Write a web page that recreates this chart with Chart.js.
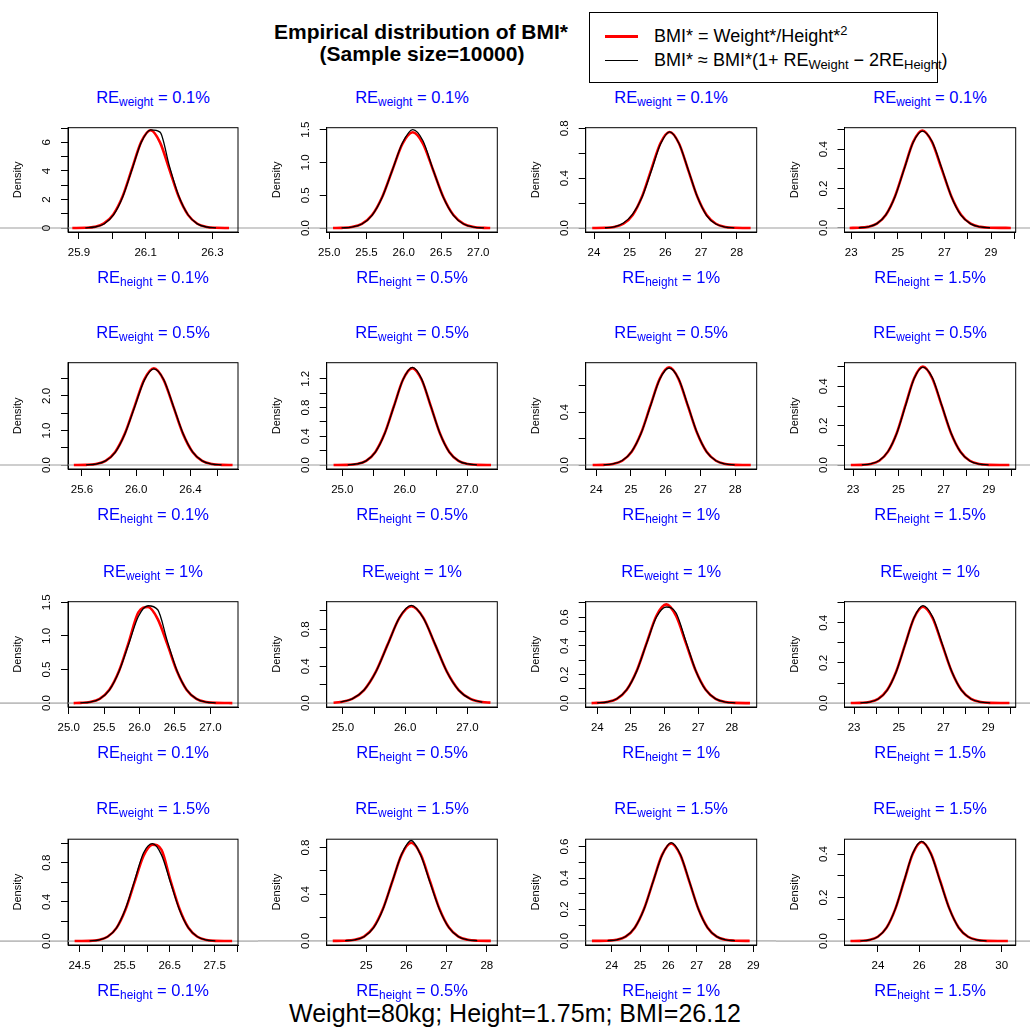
<!DOCTYPE html>
<html>
<head>
<meta charset="utf-8">
<script src="https://cdn.jsdelivr.net/npm/chart.js@4.4.1/dist/chart.umd.min.js"></script>
<style>
body { margin: 0; width: 1030px; height: 1028px; position: relative; background: #fff; overflow: hidden;
       font-family: "Liberation Sans", Arial, sans-serif; }
canvas { position: absolute; }
.lab { position: absolute; color: #0000ff; font-size: 16.5px; white-space: nowrap; transform: translate(-50%, -50%); }
.lab sub, .leg sub { font-size: 0.72em; vertical-align: -0.28em; line-height: 0; }
.leg sup { font-size: 0.72em; vertical-align: 0.5em; line-height: 0; }
.title { position: absolute; font-weight: bold; font-size: 21px; white-space: nowrap; transform: translate(-50%, -50%); }
.legbox { position: absolute; left: 589px; top: 12px; width: 347px; height: 69px; border: 1px solid #000; }
.leg { position: absolute; left: 654px; font-size: 18px; white-space: nowrap; transform: translateY(-50%); }
.foot { position: absolute; left: 515px; top: 1013px; font-size: 25px; white-space: nowrap; transform: translate(-50%, -50%); }
</style>
</head>
<body>
<div class="title" style="left:421px; top:32px">Empirical distribution of BMI*</div>
<div class="title" style="left:422px; top:54px">(Sample size=10000)</div>
<div class="legbox"></div>
<div style="position:absolute; left:605px; top:34.5px; width:33px; height:3px; background:#ff0000"></div>
<div style="position:absolute; left:605px; top:59.5px; width:33px; height:1px; background:#000"></div>
<div class="leg" style="top:36px">BMI* = Weight*/Height*<sup>2</sup></div>
<div class="leg" style="top:60px">BMI* &asymp; BMI*(1+ RE<sub>Weight</sub> &minus; 2RE<sub>Height</sub>)</div>
<div class="foot">Weight=80kg; Height=1.75m; BMI=26.12</div>

<script>
const weightRE = ['0.1%', '0.5%', '1%', '1.5%']
const heightRE = ['0.1%', '0.5%', '1%', '1.5%']

// panel rc: row r = RE weight, column c = RE height
// red = exact BMI*, blk = linear approximation
const x11 = [25.880, 25.919, 25.947, 25.975, 26.003, 26.031, 26.059, 26.087, 26.115, 26.143, 26.171, 26.199, 26.227, 26.255, 26.283, 26.311, 26.350]
const red11 = [0.00, 0.015, 0.08, 0.32, 0.95, 2.22, 4.15, 6.05, 6.85, 6.00, 4.12, 2.20, 0.92, 0.30, 0.075, 0.015, 0.00]
const blk11 = [null, 0.01, 0.07, 0.28, 0.90, 2.18, 4.10, 6.02, 6.88, 6.72, 4.35, 2.26, 0.93, 0.29, 0.07, 0.01, null]

const x12 = [25.050, 25.164, 25.301, 25.437, 25.574, 25.710, 25.847, 25.983, 26.120, 26.257, 26.393, 26.530, 26.666, 26.803, 26.939, 27.076, 27.160]
const red12 = [0.0005, 0.003, 0.016, 0.064, 0.198, 0.474, 0.886, 1.288, 1.46, 1.288, 0.886, 0.474, 0.198, 0.064, 0.016, 0.003, 0.0005]
const blk12 = [null, 0.002, 0.015, 0.062, 0.195, 0.47, 0.885, 1.30, 1.50, 1.33, 0.89, 0.47, 0.195, 0.062, 0.015, 0.002, null]

const x13 = [23.950, 24.307, 24.566, 24.825, 25.084, 25.343, 25.602, 25.861, 26.120, 26.379, 26.638, 26.897, 27.156, 27.415, 27.674, 27.933, 28.390]
const red13 = [0.0002, 0.0017, 0.0085, 0.034, 0.104, 0.250, 0.467, 0.680, 0.770, 0.680, 0.467, 0.250, 0.104, 0.034, 0.0085, 0.0017, 0.0002]
const blk13 = [null, 0.002, 0.010, 0.040, 0.112, 0.245, 0.455, 0.672, 0.772, 0.680, 0.470, 0.250, 0.100, 0.032, 0.008, 0.0015, null]

const x14 = [22.930, 23.320, 23.710, 24.100, 24.490, 24.880, 25.270, 25.660, 26.050, 26.465, 26.880, 27.295, 27.710, 28.125, 28.540, 28.955, 29.850]
const red14 = [0.0001, 0.0011, 0.0055, 0.0217, 0.067, 0.161, 0.300, 0.437, 0.495, 0.437, 0.300, 0.161, 0.067, 0.0217, 0.0055, 0.0011, 0.0001]
const blk14 = [null, 0.0011, 0.0058, 0.022, 0.068, 0.160, 0.298, 0.435, 0.492, 0.440, 0.305, 0.160, 0.065, 0.021, 0.005, 0.001, null]

const x21 = [25.540, 25.631, 25.703, 25.774, 25.845, 25.916, 25.988, 26.059, 26.130, 26.201, 26.273, 26.344, 26.415, 26.486, 26.558, 26.629, 26.710]
const red21 = [0.0006, 0.006, 0.031, 0.123, 0.379, 0.909, 1.698, 2.471, 2.80, 2.471, 1.698, 0.909, 0.379, 0.123, 0.031, 0.006, 0.0006]
const blk21 = [null, 0.006, 0.030, 0.120, 0.370, 0.900, 1.680, 2.450, 2.780, 2.480, 1.710, 0.920, 0.380, 0.120, 0.030, 0.006, null]

const x22 = [24.860, 25.086, 25.233, 25.381, 25.529, 25.677, 25.825, 25.972, 26.120, 26.268, 26.416, 26.563, 26.711, 26.859, 27.007, 27.154, 27.380]
const red22 = [0.0003, 0.003, 0.015, 0.059, 0.183, 0.438, 0.819, 1.191, 1.350, 1.191, 0.819, 0.438, 0.183, 0.059, 0.015, 0.003, 0.0003]
const blk22 = [null, 0.003, 0.015, 0.058, 0.180, 0.435, 0.815, 1.190, 1.360, 1.200, 0.820, 0.440, 0.180, 0.058, 0.015, 0.003, null]

const x23 = [23.900, 24.213, 24.483, 24.752, 25.022, 25.291, 25.561, 25.830, 26.100, 26.370, 26.639, 26.909, 27.178, 27.448, 27.717, 27.987, 28.450]
const red23 = [0.0001, 0.0016, 0.0082, 0.0325, 0.100, 0.240, 0.449, 0.653, 0.740, 0.653, 0.449, 0.240, 0.100, 0.0325, 0.0082, 0.0016, 0.0001]
const blk23 = [null, 0.0018, 0.009, 0.034, 0.102, 0.238, 0.445, 0.650, 0.735, 0.655, 0.452, 0.242, 0.100, 0.032, 0.008, 0.0015, null]

const x24 = [22.900, 23.385, 23.770, 24.155, 24.540, 24.925, 25.310, 25.695, 26.080, 26.495, 26.910, 27.325, 27.740, 28.155, 28.570, 28.985, 29.900]
const red24 = [0.0001, 0.0011, 0.0056, 0.022, 0.068, 0.162, 0.303, 0.441, 0.500, 0.441, 0.303, 0.162, 0.068, 0.022, 0.0056, 0.0011, 0.0001]
const blk24 = [null, 0.0012, 0.006, 0.023, 0.069, 0.160, 0.300, 0.440, 0.498, 0.445, 0.305, 0.163, 0.067, 0.021, 0.005, 0.001, null]

const x31 = [25.070, 25.164, 25.301, 25.437, 25.574, 25.710, 25.847, 25.983, 26.120, 26.257, 26.393, 26.530, 26.666, 26.803, 26.939, 27.076, 27.310]
const red31 = [0.0003, 0.003, 0.016, 0.064, 0.198, 0.478, 0.905, 1.350, 1.430, 1.250, 0.875, 0.470, 0.196, 0.063, 0.016, 0.003, 0.0003]
const blk31 = [null, 0.003, 0.015, 0.062, 0.195, 0.470, 0.880, 1.290, 1.450, 1.390, 0.920, 0.478, 0.197, 0.063, 0.015, 0.003, null]

const x32 = [24.850, 24.960, 25.150, 25.340, 25.530, 25.720, 25.910, 26.100, 26.290, 26.480, 26.670, 26.860, 27.050, 27.240, 27.370]
const red32 = [0.004, 0.0117, 0.046, 0.142, 0.341, 0.637, 0.927, 1.050, 0.927, 0.637, 0.341, 0.142, 0.046, 0.0117, 0.005]
const blk32 = [null, 0.012, 0.046, 0.142, 0.340, 0.635, 0.930, 1.060, 0.925, 0.640, 0.340, 0.140, 0.045, 0.011, null]

const x33 = [23.830, 23.995, 24.289, 24.582, 24.876, 25.169, 25.463, 25.756, 26.050, 26.344, 26.637, 26.931, 27.224, 27.518, 27.811, 28.105, 28.540]
const red33 = [0.0003, 0.0015, 0.0077, 0.030, 0.093, 0.224, 0.418, 0.609, 0.690, 0.609, 0.418, 0.224, 0.093, 0.030, 0.0077, 0.0015, 0.0002]
const blk33 = [null, 0.0017, 0.008, 0.031, 0.094, 0.222, 0.415, 0.600, 0.672, 0.630, 0.430, 0.225, 0.092, 0.030, 0.0075, 0.0015, null]

const x34 = [22.850, 23.280, 23.680, 24.080, 24.480, 24.880, 25.280, 25.680, 26.080, 26.510, 26.940, 27.370, 27.800, 28.230, 28.660, 29.090, 29.950]
const red34 = [0.0001, 0.0011, 0.0053, 0.021, 0.065, 0.156, 0.291, 0.424, 0.480, 0.424, 0.291, 0.156, 0.065, 0.021, 0.0053, 0.0011, 0.0001]
const blk34 = [null, 0.001, 0.005, 0.020, 0.064, 0.155, 0.290, 0.425, 0.485, 0.430, 0.295, 0.157, 0.064, 0.020, 0.005, 0.001, null]

const x41 = [24.390, 24.723, 24.923, 25.122, 25.322, 25.521, 25.721, 25.920, 26.120, 26.320, 26.519, 26.719, 26.918, 27.118, 27.317, 27.517, 27.890]
const red41 = [0.0002, 0.002, 0.011, 0.044, 0.135, 0.322, 0.600, 0.870, 0.985, 0.930, 0.620, 0.330, 0.136, 0.044, 0.011, 0.002, 0.0002]
const blk41 = [null, 0.002, 0.011, 0.044, 0.135, 0.330, 0.615, 0.900, 0.995, 0.880, 0.600, 0.320, 0.134, 0.044, 0.011, 0.002, null]

const x42 = [24.170, 24.478, 24.713, 24.947, 25.182, 25.416, 25.651, 25.885, 26.120, 26.355, 26.589, 26.824, 27.058, 27.293, 27.527, 27.762, 28.100]
const red42 = [0.0002, 0.0018, 0.0093, 0.037, 0.114, 0.273, 0.509, 0.741, 0.840, 0.741, 0.509, 0.273, 0.114, 0.037, 0.0093, 0.0018, 0.0002]
const blk42 = [null, 0.0018, 0.009, 0.036, 0.112, 0.270, 0.510, 0.745, 0.860, 0.735, 0.500, 0.270, 0.114, 0.037, 0.009, 0.0018, null]

const x43 = [23.300, 23.850, 24.171, 24.492, 24.814, 25.135, 25.457, 25.778, 26.100, 26.422, 26.743, 27.065, 27.386, 27.708, 28.029, 28.350, 28.870]
const red43 = [0.0001, 0.0014, 0.0069, 0.027, 0.084, 0.201, 0.376, 0.547, 0.620, 0.547, 0.376, 0.201, 0.084, 0.027, 0.0069, 0.0014, 0.0001]
const blk43 = [null, 0.0015, 0.007, 0.028, 0.085, 0.200, 0.375, 0.545, 0.625, 0.550, 0.378, 0.200, 0.083, 0.027, 0.0068, 0.0013, null]

const x44 = [22.670, 23.145, 23.570, 23.995, 24.420, 24.845, 25.270, 25.695, 26.120, 26.570, 27.020, 27.470, 27.920, 28.370, 28.820, 29.270, 30.300]
const red44 = [0.0001, 0.001, 0.005, 0.020, 0.0616, 0.148, 0.276, 0.402, 0.455, 0.402, 0.276, 0.148, 0.0616, 0.020, 0.005, 0.001, 0.0001]
const blk44 = [null, 0.001, 0.005, 0.020, 0.062, 0.148, 0.277, 0.405, 0.458, 0.400, 0.274, 0.147, 0.061, 0.020, 0.005, 0.001, null]

const xs = [x11, x12, x13, x14, x21, x22, x23, x24, x31, x32, x33, x34, x41, x42, x43, x44]
const reds = [red11, red12, red13, red14, red21, red22, red23, red24, red31, red32, red33, red34, red41, red42, red43, red44]
const blks = [blk11, blk12, blk13, blk14, blk21, blk22, blk23, blk24, blk31, blk32, blk33, blk34, blk41, blk42, blk43, blk44]

// axis ranges per panel
const xMin = [25.867, 24.965, 23.767, 22.71, 25.497, 24.75, 23.70, 22.62, 24.99, 24.74, 23.655, 22.57, 24.243, 24.02, 23.08, 22.38]
const xMax = [26.377, 27.255, 28.56, 30.06, 26.75, 27.48, 28.62, 30.18, 27.39, 27.48, 28.74, 30.23, 28.02, 28.26, 29.12, 30.68]
const yMin = [-0.28, -0.06, -0.032, -0.0205, -0.114, -0.055, -0.03, -0.02, -0.058, -0.042, -0.027, -0.0195, -0.04, -0.035, -0.026, -0.018]
const yMax = [7.03, 1.53, 0.805, 0.509, 2.96, 1.425, 0.775, 0.52, 1.51, 1.10, 0.709, 0.505, 1.04, 0.871, 0.647, 0.468]

// tick positions and the labels R kept
const xTickVals = [
  [25.9, 26.0, 26.1, 26.2, 26.3], [25, 25.5, 26, 26.5, 27], [24, 25, 26, 27, 28], [23, 24, 25, 26, 27, 28, 29, 30],
  [25.6, 25.8, 26.0, 26.2, 26.4, 26.6], [25, 25.5, 26, 26.5, 27], [24, 25, 26, 27, 28], [23, 24, 25, 26, 27, 28, 29, 30],
  [25, 25.5, 26, 26.5, 27], [25, 25.5, 26, 26.5, 27], [24, 25, 26, 27, 28], [23, 24, 25, 26, 27, 28, 29, 30],
  [24.5, 25, 25.5, 26, 26.5, 27, 27.5, 28], [25, 26, 27, 28], [24, 25, 26, 27, 28, 29], [24, 26, 28, 30]
]
const xTickText = [
  ['25.9', '', '26.1', '', '26.3'], ['25.0', '25.5', '26.0', '26.5', '27.0'], ['24', '25', '26', '27', '28'], ['23', '', '25', '', '27', '', '29', ''],
  ['25.6', '', '26.0', '', '26.4', ''], ['25.0', '', '26.0', '', '27.0'], ['24', '25', '26', '27', '28'], ['23', '', '25', '', '27', '', '29', ''],
  ['25.0', '25.5', '26.0', '26.5', '27.0'], ['25.0', '', '26.0', '', '27.0'], ['24', '25', '26', '27', '28'], ['23', '', '25', '', '27', '', '29', ''],
  ['24.5', '', '25.5', '', '26.5', '', '27.5', ''], ['25', '26', '27', '28'], ['24', '25', '26', '27', '28', '29'], ['24', '26', '28', '30']
]
const yTickVals = [
  [0, 1, 2, 3, 4, 5, 6, 7], [0, 0.5, 1, 1.5], [0, 0.2, 0.4, 0.6, 0.8], [0, 0.1, 0.2, 0.3, 0.4, 0.5],
  [0, 0.5, 1, 1.5, 2, 2.5], [0, 0.2, 0.4, 0.6, 0.8, 1.0, 1.2], [0, 0.2, 0.4, 0.6], [0, 0.1, 0.2, 0.3, 0.4, 0.5],
  [0, 0.5, 1, 1.5], [0, 0.2, 0.4, 0.6, 0.8, 1.0], [0, 0.1, 0.2, 0.3, 0.4, 0.5, 0.6, 0.7], [0, 0.1, 0.2, 0.3, 0.4, 0.5],
  [0, 0.2, 0.4, 0.6, 0.8, 1.0], [0, 0.2, 0.4, 0.6, 0.8], [0, 0.1, 0.2, 0.3, 0.4, 0.5, 0.6], [0, 0.1, 0.2, 0.3, 0.4]
]
const yTickText = [
  ['0', '', '2', '', '4', '', '6', ''], ['0.0', '0.5', '1.0', '1.5'], ['0.0', '', '0.4', '', '0.8'], ['0.0', '', '0.2', '', '0.4', ''],
  ['0.0', '', '1.0', '', '2.0', ''], ['0.0', '', '0.4', '', '0.8', '', '1.2'], ['0.0', '', '0.4', ''], ['0.0', '', '0.2', '', '0.4', ''],
  ['0.0', '0.5', '1.0', '1.5'], ['0.0', '', '0.4', '', '0.8', ''], ['0.0', '', '0.2', '', '0.4', '', '0.6', ''], ['0.0', '', '0.2', '', '0.4', ''],
  ['0.0', '', '0.4', '', '0.8', ''], ['0.0', '', '0.4', '', '0.8'], ['0.0', '', '0.2', '', '0.4', '', '0.6'], ['0.0', '', '0.2', '', '0.4']
]

// page geometry (plot boxes)
const colBoxL = [68, 326.7, 585.7, 844.5]
const colBoxR = [238, 497.3, 756.7, 1015.7]
const colCellL = [0, 258, 517, 776]
const colCellR = [258, 517, 776, 1030]
const rowBoxT = [127.7, 362.7, 601.7, 839.2]
const rowBoxB = [232, 469.3, 706.7, 944.5]

const FONT = '"Liberation Sans", Arial, sans-serif'
Chart.defaults.font.family = FONT

const decor = {
  id: 'decor',
  beforeDatasetsDraw(chart) {
    const ctx = chart.ctx
    const y0 = chart.scales.y.getPixelForValue(0)
    ctx.save()
    ctx.strokeStyle = '#bebebe'
    ctx.lineWidth = 1.6
    ctx.beginPath()
    ctx.moveTo(0, y0)
    ctx.lineTo(chart.width, y0)
    ctx.stroke()
    ctx.restore()
  },
  afterDraw(chart) {
    const ctx = chart.ctx
    const a = chart.chartArea
    const i = chart.options.plugins.decor.panel
    const ys = chart.scales.y
    ctx.save()
    ctx.strokeStyle = '#000'
    ctx.lineWidth = 1
    ctx.strokeRect(a.left, a.top, a.right - a.left, a.bottom - a.top)
    ctx.fillStyle = '#000'
    ctx.font = '11.5px ' + FONT
    ctx.textAlign = 'center'
    ctx.textBaseline = 'alphabetic'
    yTickVals[i].forEach((v, k) => {
      const t = yTickText[i][k]
      if (!t) return
      ctx.save()
      ctx.translate(a.left - 18, ys.getPixelForValue(v))
      ctx.rotate(-Math.PI / 2)
      ctx.fillText(t, 0, 0)
      ctx.restore()
    })
    ctx.font = '11px ' + FONT
    ctx.textBaseline = 'middle'
    ctx.translate(a.left - 50, (a.top + a.bottom) / 2)
    ctx.rotate(-Math.PI / 2)
    ctx.fillText('Density', 0, 0)
    ctx.restore()
  }
}

function pts(x, y) {
  return x.map((v, j) => ({ x: v, y: y[j] }))
}

function addLabel(html, left, top) {
  const d = document.createElement('div')
  d.className = 'lab'
  d.innerHTML = html
  d.style.left = left + 'px'
  d.style.top = top + 'px'
  document.body.appendChild(d)
}

for (let r = 0; r < 4; r++) {
  for (let c = 0; c < 4; c++) {
    const i = r * 4 + c
    const top = Math.round(rowBoxT[r]) - 12
    const padTop = rowBoxT[r] - top
    const bottomSpace = 40
    const height = Math.round(rowBoxB[r] - top + bottomSpace)
    const width = colCellR[c] - colCellL[c]

    const canvas = document.createElement('canvas')
    canvas.width = width
    canvas.height = height
    canvas.style.left = colCellL[c] + 'px'
    canvas.style.top = top + 'px'
    canvas.style.width = width + 'px'
    canvas.style.height = height + 'px'
    document.body.appendChild(canvas)

    const cx = (colBoxL[c] + colBoxR[c]) / 2
    addLabel('RE<sub>weight</sub> = ' + weightRE[r], cx, rowBoxT[r] - 31)
    addLabel('RE<sub>height</sub> = ' + heightRE[c], cx, rowBoxB[r] + 45)

    const xLab = v => {
      const k = xTickVals[i].findIndex(t => Math.abs(t - v) < 1e-6)
      return k < 0 ? '' : xTickText[i][k]
    }

    new Chart(canvas, {
      type: 'line',
      data: {
        datasets: [
          { label: 'approx', data: pts(xs[i], blks[i]), borderColor: '#000000', borderWidth: 1.3 },
          { label: 'exact', data: pts(xs[i], reds[i]), borderColor: '#ff0000', borderWidth: 2.6 }
        ]
      },
      options: {
        responsive: false,
        animation: false,
        devicePixelRatio: 1,
        layout: { padding: { top: padTop, right: colCellR[c] - colBoxR[c], left: 0, bottom: 0 } },
        elements: {
          point: { radius: 0 },
          line: { cubicInterpolationMode: 'monotone', fill: false }
        },
        plugins: { legend: { display: false }, tooltip: { enabled: false }, decor: { panel: i } },
        scales: {
          x: {
            type: 'linear',
            min: xMin[i],
            max: xMax[i],
            afterBuildTicks: s => {
              s.ticks = xTickVals[i].filter(v => v >= xMin[i] && v <= xMax[i]).map(v => ({ value: v }))
            },
            afterFit: s => { s.height = bottomSpace },
            ticks: { callback: xLab, color: '#000', font: { size: 11.5 }, padding: 7, maxRotation: 0, autoSkip: false },
            grid: { drawOnChartArea: false, tickLength: 7, color: '#000', lineWidth: 1 },
            border: { color: '#000', width: 1 }
          },
          y: {
            min: yMin[i],
            max: yMax[i],
            afterBuildTicks: s => {
              s.ticks = yTickVals[i].filter(v => v >= yMin[i] && v <= yMax[i] + 1e-9).map(v => ({ value: v }))
            },
            afterFit: s => { s.width = colBoxL[c] - colCellL[c] },
            ticks: { display: false },
            grid: { drawOnChartArea: false, tickLength: 7, color: '#000', lineWidth: 1 },
            border: { color: '#000', width: 1 }
          }
        }
      },
      plugins: [decor]
    })
  }
}
</script>
</body>
</html>
